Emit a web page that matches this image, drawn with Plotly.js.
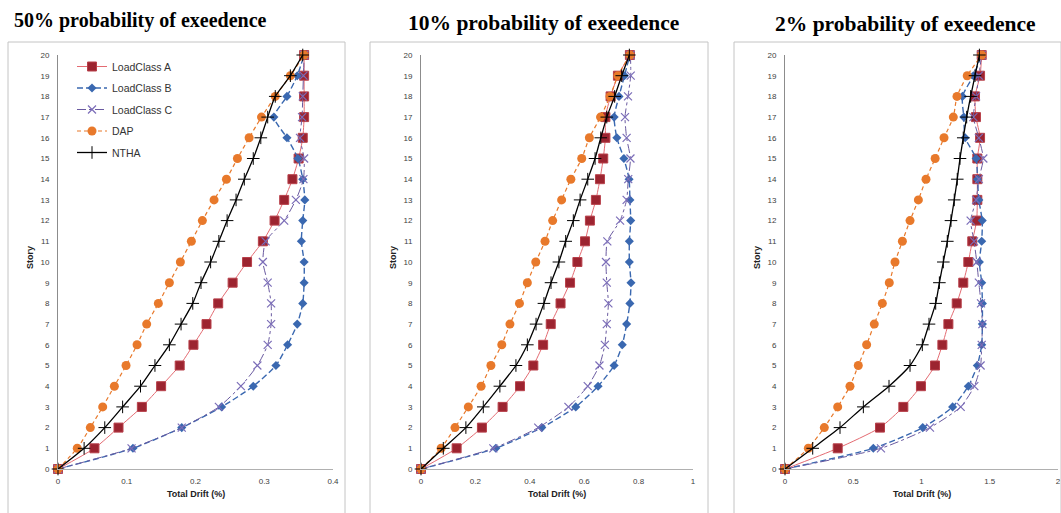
<!DOCTYPE html>
<html>
<head>
<meta charset="utf-8">
<script src="https://cdn.plot.ly/plotly-3.0.1.min.js"></script>
<style>
html,body{margin:0;padding:0;background:#fff;}
#chart{width:1061px;height:513px;}
</style>
</head>
<body>
<div id="chart"></div>
<script>
// ---- data ----
const stories = [0,1,2,3,4,5,6,7,8,9,10,11,12,13,14,15,16,17,18,19,20];
const seriesNames = ["LoadClass A","LoadClass B","LoadClass C","DAP","NTHA"];
const panelTitles = ["50% probability of exeedence","10% probability of exeedence","2% probability of exeedence"];
const xRanges = [[0,0.4],[0,1],[0,2]];
const xTicks = [[0,0.1,0.2,0.3,0.4],[0,0.2,0.4,0.6,0.8,1],[0,0.5,1,1.5,2]];
const xTickLabels = [["0","0.1","0.2","0.3","0.4"],["0","0.2","0.4","0.6","0.8","1"],["0","0.5","1","1.5","2"]];

// 50% probability of exceedence
const loadA50 = [0,0.053,0.088,0.122,0.150,0.177,0.197,0.216,0.233,0.254,0.275,0.298,0.315,0.329,0.341,0.350,0.356,0.358,0.358,0.358,0.358];
const loadB50 = [0,0.109,0.180,0.238,0.284,0.317,0.334,0.348,0.356,0.358,0.358,0.354,0.356,0.359,0.356,0.349,0.333,0.314,0.333,0.348,0.358];
const loadC50 = [0,0.107,0.180,0.234,0.266,0.290,0.305,0.310,0.310,0.305,0.298,0.302,0.329,0.346,0.357,0.358,0.352,0.355,0.356,0.357,0.358];
const dap50   = [0,0.028,0.047,0.065,0.082,0.099,0.115,0.129,0.146,0.162,0.178,0.194,0.210,0.227,0.245,0.261,0.278,0.296,0.316,0.338,0.358];
const ntha50  = [0,0.038,0.068,0.094,0.120,0.141,0.162,0.179,0.196,0.208,0.222,0.234,0.246,0.259,0.271,0.284,0.295,0.305,0.316,0.338,0.356];

// 10% probability of exceedence
const loadA10 = [0,0.131,0.224,0.300,0.364,0.413,0.449,0.477,0.513,0.548,0.575,0.603,0.621,0.643,0.658,0.670,0.678,0.678,0.697,0.724,0.768];
const loadB10 = [0,0.275,0.444,0.569,0.651,0.710,0.740,0.756,0.768,0.772,0.766,0.766,0.771,0.768,0.765,0.746,0.720,0.710,0.728,0.748,0.768];
const loadC10 = [0,0.266,0.431,0.542,0.613,0.656,0.676,0.683,0.689,0.683,0.680,0.685,0.732,0.756,0.762,0.770,0.756,0.750,0.761,0.771,0.770];
const dap10   = [0,0.074,0.125,0.174,0.221,0.257,0.297,0.327,0.362,0.391,0.422,0.456,0.484,0.517,0.551,0.591,0.619,0.660,0.695,0.724,0.768];
const ntha10  = [0,0.082,0.165,0.229,0.290,0.349,0.391,0.423,0.452,0.478,0.507,0.532,0.560,0.585,0.613,0.640,0.661,0.683,0.712,0.738,0.766];

// 2% probability of exceedence
const loadA2 = [0,0.386,0.696,0.867,0.996,1.099,1.153,1.197,1.258,1.306,1.343,1.372,1.404,1.409,1.409,1.409,1.429,1.399,1.392,1.429,1.441];
const loadB2 = [0,0.647,1.009,1.228,1.343,1.409,1.441,1.446,1.446,1.441,1.424,1.441,1.445,1.420,1.410,1.400,1.320,1.310,1.300,1.380,1.440];
const loadC2 = [0,0.703,1.062,1.287,1.387,1.433,1.441,1.446,1.436,1.420,1.405,1.385,1.360,1.400,1.420,1.453,1.420,1.380,1.400,1.420,1.441];
const dap2   = [0,0.171,0.288,0.386,0.476,0.537,0.598,0.654,0.713,0.764,0.806,0.860,0.916,0.977,1.033,1.100,1.165,1.233,1.260,1.335,1.441];
const ntha2  = [0,0.203,0.403,0.574,0.762,0.916,1.006,1.055,1.104,1.131,1.160,1.189,1.216,1.240,1.262,1.282,1.306,1.331,1.360,1.392,1.424];

const panels = [
  [loadA50, loadB50, loadC50, dap50, ntha50],
  [loadA10, loadB10, loadC10, dap10, ntha10],
  [loadA2,  loadB2,  loadC2,  dap2,  ntha2]
];

// ---- styles ----
const styles = [
  {line:{color:'#e46b72',width:1,shape:'spline',smoothing:0.6},
   marker:{symbol:'square',size:9,color:'#9c2430',line:{color:'#b8404a',width:1}}},
  {line:{color:'#3a68b0',width:1.4,dash:'6px,3px',shape:'spline',smoothing:0.6},
   marker:{symbol:'diamond',size:7,color:'#3a68b0',line:{width:0}}},
  {line:{color:'#6a5aa0',width:1,dash:'dashdot',shape:'spline',smoothing:0.6},
   marker:{symbol:'x-thin-open',size:8,color:'#7b6db8',line:{color:'#7b6db8',width:1.2}}},
  {line:{color:'#e8792b',width:1.2,dash:'4px,3px',shape:'spline',smoothing:0.6},
   marker:{symbol:'circle',size:9,color:'#e8792b',line:{width:0}}},
  {line:{color:'#000000',width:1.3,shape:'spline',smoothing:0.6},
   marker:{symbol:'cross-thin-open',size:9,color:'#000000',line:{color:'#000000',width:1}}}
];

const W = 1061, H = 513;
const px = v => v / W;
const py = v => 1 - v / H;

const plotX = [[58,333],[421,693],[785,1058]];
const plotY = [469,55];
const boxes = [[8,345],[370,708],[734,1061]];
const titleX = [140,543,905];
const titleY = [20,23,24];
const titleSize = [20,21.5,21.5];

const traces = [];
panels.forEach((series, p) => {
  const sfx = p === 0 ? '' : String(p+1);
  series.forEach((vals, s) => {
    traces.push({
      type:'scatter', mode:'lines+markers',
      x: vals, y: stories,
      name: seriesNames[s],
      legendgroup: 'g'+s,
      showlegend: p === 0,
      xaxis: 'x'+sfx, yaxis: 'y'+sfx,
      cliponaxis: false,
      line: styles[s].line,
      marker: styles[s].marker
    });
  });
});

const tickFont = {family:'Liberation Sans, Arial, sans-serif', size:8, color:'#404040'};
const layout = {
  width: W, height: H,
  margin:{l:0,r:0,t:0,b:0},
  paper_bgcolor:'#ffffff', plot_bgcolor:'#ffffff',
  showlegend: true,
  legend:{
    x: px(72), y: py(52), xanchor:'left', yanchor:'top',
    bgcolor:'rgba(0,0,0,0)',
    font:{family:'Liberation Sans, Arial, sans-serif', size:10.5, color:'#333'},
    tracegroupgap: 2.5
  },
  shapes: [], annotations: []
};

for (let p = 0; p < 3; p++) {
  const sfx = p === 0 ? '' : String(p+1);
  layout['xaxis'+sfx] = {
    domain:[px(plotX[p][0]), px(plotX[p][1])],
    range: xRanges[p], anchor:'y'+sfx,
    tickmode:'array', tickvals:xTicks[p], ticktext:xTickLabels[p],
    showgrid:false, zeroline:false,
    showline:true, linecolor:'#b0b0b0', linewidth:1,
    ticks:'', ticklabelstandoff:4,
    tickfont: tickFont, fixedrange:true
  };
  layout['yaxis'+sfx] = {
    domain:[py(plotY[0]), py(plotY[1])],
    range:[0,20], anchor:'x'+sfx,
    tickmode:'linear', tick0:0, dtick:1,
    showgrid:false, zeroline:false,
    showline:true, linecolor:'#8c8c8c', linewidth:1,
    ticks:'', ticklabelstandoff:6,
    tickfont: tickFont, fixedrange:true
  };
  // panel frame
  layout.shapes.push({
    type:'rect', xref:'paper', yref:'paper',
    x0: px(boxes[p][0]), x1: px(boxes[p][1]),
    y0: -0.02, y1: py(42),
    line:{color:'#c4c4c4', width:1}, fillcolor:'rgba(0,0,0,0)'
  });
  // panel title
  layout.annotations.push({
    xref:'paper', yref:'paper', x: px(titleX[p]), y: py(titleY[p]),
    xanchor:'center', yanchor:'middle', showarrow:false,
    text:'<b>'+panelTitles[p]+'</b>',
    font:{family:'Liberation Serif, Times New Roman, serif', size:titleSize[p], color:'#000'}
  });
  // y-axis title
  layout.annotations.push({
    xref:'paper', yref:'paper', x: px(plotX[p][0]-28), y: py(258),
    xanchor:'center', yanchor:'middle', showarrow:false, textangle:-90,
    text:'<b>Story</b>',
    font:{family:'Liberation Sans, Arial, sans-serif', size:9, color:'#222'}
  });
  // x-axis title
  layout.annotations.push({
    xref:'paper', yref:'paper', x: px((plotX[p][0]+plotX[p][1])/2), y: py(494),
    xanchor:'center', yanchor:'middle', showarrow:false,
    text:'<b>Total Drift (%)</b>',
    font:{family:'Liberation Sans, Arial, sans-serif', size:9, color:'#222'}
  });
}

Plotly.newPlot('chart', traces, layout, {displayModeBar:false, staticPlot:true});
</script>
</body>
</html>
